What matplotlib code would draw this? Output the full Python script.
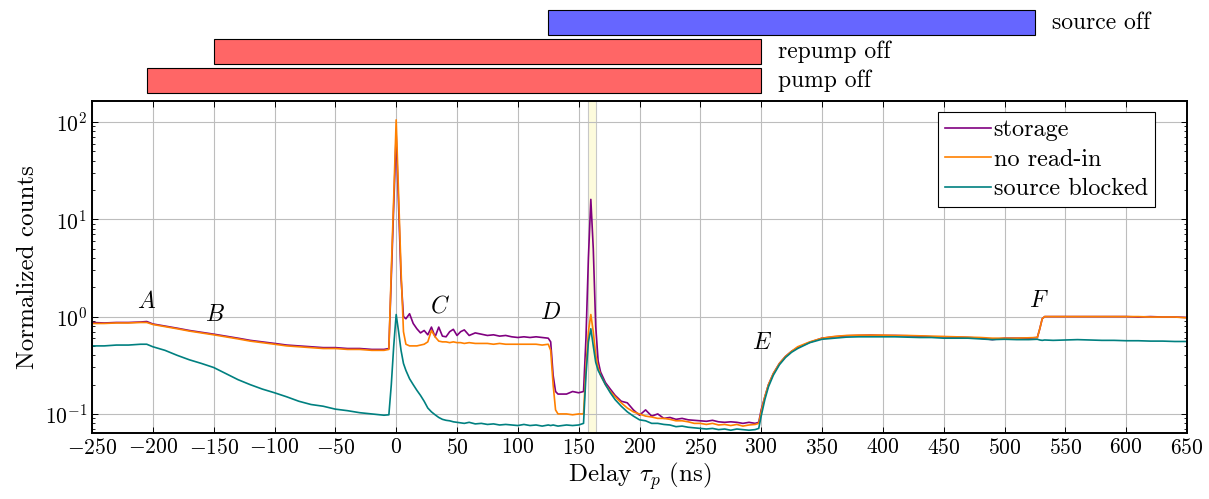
"""
Delay scan of normalized counts (storage / no read-in / source blocked),
with the laser timing bars drawn above the plot.
"""

import matplotlib
matplotlib.use("Agg")
import matplotlib.pyplot as plt
import numpy as np

plt.rcParams['font.family'] = 'serif'
plt.rcParams['font.serif'] = ['cmr10']
plt.rcParams['mathtext.fontset'] = 'cm'
plt.rcParams['axes.formatter.use_mathtext'] = True
plt.rcParams['axes.unicode_minus'] = True

FS = 15.5      # tick labels
FS_LAB = 18    # axis labels, legend, bar labels

# Delay axis (ns), shared by the three traces
delay = [
    -250, -240, -230, -220, -210, -205, -200, -190, -180, -170,
    -160, -150, -140, -130, -120, -110, -100, -90, -80, -70,
    -60, -50, -40, -30, -20, -10, -6, -4, -2, 0,
    2, 4, 6, 8, 11, 14, 17, 20, 23, 26,
    29, 32, 35, 38, 41, 44, 47, 50, 53, 56,
    60, 65, 70, 75, 80, 85, 90, 95, 100, 105,
    110, 115, 120, 125, 127, 129, 131, 133, 140, 145,
    150, 154, 156, 158, 160, 162, 164, 166, 168, 172,
    176, 180, 185, 190, 195, 200, 205, 210, 215, 220,
    225, 230, 235, 240, 245, 250, 255, 260, 265, 270,
    275, 280, 285, 290, 295, 298, 300, 303, 306, 310,
    315, 320, 325, 330, 340, 350, 360, 370, 380, 390,
    400, 410, 420, 430, 440, 450, 460, 470, 480, 490,
    500, 510, 520, 527, 529, 531, 533, 540, 550, 560,
    570, 580, 590, 600, 610, 620, 630, 640, 650,
]

storage = [
    0.87, 0.86, 0.87, 0.87, 0.88, 0.89, 0.84, 0.80, 0.76, 0.72,
    0.69, 0.66, 0.63, 0.60, 0.57, 0.55, 0.53, 0.51, 0.50, 0.49,
    0.48, 0.48, 0.47, 0.47, 0.46, 0.46, 0.47, 2.5, 13, 75,
    14, 2.5, 1.0, 0.95, 1.07, 0.85, 0.75, 0.68, 0.72, 0.65,
    0.78, 0.62, 0.78, 0.63, 0.62, 0.70, 0.74, 0.64, 0.70, 0.73,
    0.64, 0.68, 0.66, 0.64, 0.65, 0.63, 0.64, 0.62, 0.61, 0.62,
    0.61, 0.62, 0.61, 0.60, 0.55, 0.25, 0.17, 0.16, 0.16, 0.17,
    0.165, 0.17, 0.6, 4, 16, 5, 0.8, 0.35, 0.27, 0.21,
    0.18, 0.155, 0.135, 0.13, 0.11, 0.097, 0.11, 0.095, 0.10, 0.09,
    0.092, 0.088, 0.09, 0.087, 0.086, 0.085, 0.084, 0.086, 0.083, 0.082,
    0.083, 0.082, 0.080, 0.082, 0.080, 0.082, 0.11, 0.15, 0.20, 0.26,
    0.33, 0.39, 0.44, 0.48, 0.545, 0.60, 0.62, 0.635, 0.64, 0.645,
    0.64, 0.64, 0.635, 0.63, 0.62, 0.62, 0.615, 0.61, 0.60, 0.58,
    0.60, 0.60, 0.60, 0.61, 0.75, 0.95, 1.0, 1.0, 1.0, 1.0,
    1.0, 1.0, 1.0, 1.0, 0.99, 1.0, 0.99, 0.99, 0.98,
]

no_read_in = [
    0.85, 0.85, 0.86, 0.86, 0.87, 0.87, 0.83, 0.79, 0.75, 0.71,
    0.68, 0.65, 0.62, 0.59, 0.56, 0.54, 0.52, 0.50, 0.49, 0.48,
    0.47, 0.47, 0.46, 0.46, 0.45, 0.45, 0.46, 3, 17, 105,
    18, 3, 0.7, 0.52, 0.50, 0.50, 0.50, 0.51, 0.52, 0.55,
    0.72, 0.62, 0.56, 0.55, 0.55, 0.54, 0.55, 0.54, 0.54, 0.53,
    0.54, 0.53, 0.53, 0.53, 0.52, 0.53, 0.52, 0.52, 0.52, 0.52,
    0.52, 0.52, 0.51, 0.52, 0.45, 0.20, 0.11, 0.10, 0.10, 0.098,
    0.10, 0.10, 0.30, 0.70, 1.05, 0.70, 0.40, 0.30, 0.25, 0.20,
    0.17, 0.15, 0.13, 0.115, 0.105, 0.10, 0.095, 0.093, 0.09, 0.09,
    0.088, 0.085, 0.085, 0.083, 0.080, 0.080, 0.078, 0.080, 0.077, 0.078,
    0.076, 0.078, 0.075, 0.077, 0.078, 0.080, 0.105, 0.15, 0.20, 0.26,
    0.33, 0.39, 0.44, 0.49, 0.55, 0.60, 0.625, 0.64, 0.645, 0.645,
    0.645, 0.64, 0.64, 0.635, 0.63, 0.625, 0.62, 0.615, 0.61, 0.60,
    0.60, 0.60, 0.605, 0.61, 0.75, 0.95, 1.0, 1.0, 1.0, 1.0,
    1.0, 1.0, 1.0, 1.0, 1.0, 0.99, 0.99, 0.99, 0.97,
]

source_blocked = [
    0.50, 0.50, 0.51, 0.51, 0.52, 0.52, 0.49, 0.45, 0.40, 0.36,
    0.33, 0.30, 0.26, 0.225, 0.20, 0.18, 0.165, 0.15, 0.135, 0.125,
    0.12, 0.112, 0.108, 0.103, 0.10, 0.097, 0.098, 0.20, 0.50, 1.05,
    0.70, 0.45, 0.33, 0.28, 0.23, 0.20, 0.175, 0.155, 0.135, 0.115,
    0.105, 0.098, 0.092, 0.088, 0.086, 0.085, 0.083, 0.082, 0.081, 0.080,
    0.082, 0.079, 0.080, 0.078, 0.079, 0.077, 0.078, 0.077, 0.076, 0.078,
    0.076, 0.077, 0.075, 0.077, 0.076, 0.077, 0.076, 0.075, 0.077, 0.076,
    0.077, 0.080, 0.25, 0.55, 0.75, 0.50, 0.34, 0.28, 0.25, 0.20,
    0.165, 0.14, 0.12, 0.105, 0.095, 0.087, 0.085, 0.080, 0.080, 0.078,
    0.077, 0.074, 0.075, 0.073, 0.072, 0.071, 0.070, 0.071, 0.069, 0.070,
    0.068, 0.070, 0.069, 0.068, 0.069, 0.071, 0.095, 0.14, 0.19, 0.25,
    0.32, 0.38, 0.43, 0.47, 0.54, 0.585, 0.60, 0.615, 0.62, 0.62,
    0.62, 0.62, 0.615, 0.61, 0.61, 0.60, 0.60, 0.60, 0.59, 0.58,
    0.585, 0.58, 0.58, 0.585, 0.575, 0.57, 0.575, 0.57, 0.575, 0.58,
    0.575, 0.57, 0.57, 0.565, 0.565, 0.56, 0.56, 0.555, 0.555,
]

series_names = ["storage", "no read-in", "source blocked"]
series_colors = ["#800080", "#ff8000", "#008080"]

# Laser timing bars (start, end in ns)
bar_labels = ["pump off", "repump off", "source off"]
bar_start = [-205, -150, 125]
bar_end = [300, 300, 525]
bar_colors = ["#ff6666", "#ff6666", "#6666ff"]

# Read-out window
window = (158, 164)

# Region annotations
region_labels = ["A", "B", "C", "D", "E", "F"]
region_x = [-205, -149, 36, 127, 301, 528]
region_y = [1.42, 1.05, 1.28, 1.08, 0.53, 1.45]


def main():
    fig = plt.figure(figsize=(12.09, 4.99), dpi=100)
    left, right = 92 / 1209, 1187 / 1209
    ax = fig.add_axes([left, 66 / 499, right - left, 332 / 499])

    ax.axvspan(*window, facecolor="#fdfbdc", edgecolor="#c8c8c8",
               linewidth=0.8, zorder=0.5)

    x = np.array(delay)
    for vals, name, col in zip([storage, no_read_in, source_blocked],
                               series_names, series_colors):
        ax.plot(x, vals, color=col, lw=1.2, label=name, zorder=2)

    ax.set_yscale("log")
    ax.set_xlim(-250, 650)
    ax.set_ylim(0.0637, 164)
    ax.set_xticks(np.arange(-250, 651, 50))
    ax.grid(True, which="major", color="#bdbdbd", lw=0.8, zorder=0)
    ax.set_axisbelow(True)
    ax.tick_params(which="both", direction="in", top=True, right=True,
                   labelsize=FS)
    ax.tick_params(which="major", length=4.5, width=0.7)
    ax.tick_params(which="minor", length=2.5, width=0.6)
    for sp in ax.spines.values():
        sp.set_linewidth(1.4)

    ax.set_xlabel(r"Delay $\tau_p$ (ns)", fontsize=FS_LAB, labelpad=2)
    ax.set_ylabel("Normalized counts", fontsize=FS_LAB, labelpad=4)

    for lab, lx, ly in zip(region_labels, region_x, region_y):
        ax.text(lx, ly, "$%s$" % lab, fontsize=FS + 1.5, ha="center",
                va="center")

    leg = ax.legend(loc="upper right", bbox_to_anchor=(0.9708, 0.967),
                    fontsize=FS_LAB - 0.5, frameon=True, fancybox=False,
                    handlelength=1.9, handletextpad=0.1, borderpad=0.3,
                    labelspacing=0.3, borderaxespad=0)
    leg.get_frame().set_edgecolor("black")
    leg.get_frame().set_linewidth(0.8)
    leg.get_frame().set_alpha(1)

    # Timing bars above the plot
    axb = fig.add_axes([left, (499 - 95) / 499, right - left, 89 / 499])
    axb.set_xlim(-250, 650)
    axb.set_ylim(-0.5, 2.57)
    axb.axis("off")
    rows = np.arange(len(bar_labels))
    widths = np.array(bar_end) - np.array(bar_start)
    axb.barh(rows, widths, left=bar_start, height=0.86, color=bar_colors,
             edgecolor="black", linewidth=0.8)
    for r, lab, end in zip(rows, bar_labels, bar_end):
        axb.annotate(lab, (end, r), xytext=(12, 0),
                     textcoords="offset points", va="center", ha="left",
                     fontsize=FS_LAB - 1, annotation_clip=False)

    fig.savefig("out.png", dpi=100)


if __name__ == "__main__":
    main()
